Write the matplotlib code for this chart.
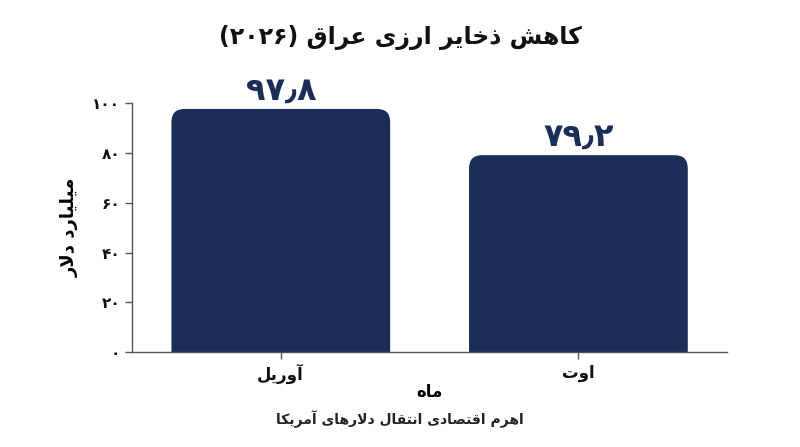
import matplotlib
matplotlib.use("Agg")
import matplotlib.pyplot as plt
from matplotlib.patches import FancyBboxPatch

# data
months = ["آوریل", "اوت"]
reserves = [97.8, 79.2]
value_labels = ["۹۷٫۸", "۷۹٫۲"]
yticks = [0, 20, 40, 60, 80, 100]
ytick_labels = ["۰", "۲۰", "۴۰", "۶۰", "۸۰", "۱۰۰"]
title = "کاهش ذخایر ارزی عراق (۲۰۲۶)"
ylabel = "میلیارد دلار"
xlabel = "ماه"
footer = "اهرم اقتصادی انتقال دلارهای آمریکا"

NAVY = "#1a2e58"

# (isolated, final, initial, medial)
FORMS = {
    "\u0622": ("\uFE81", "\uFE82", None, None),
    "\u0627": ("\uFE8D", "\uFE8E", None, None),
    "\u062A": ("\uFE95", "\uFE96", "\uFE97", "\uFE98"),
    "\u062E": ("\uFEA5", "\uFEA6", "\uFEA7", "\uFEA8"),
    "\u062F": ("\uFEA9", "\uFEAA", None, None),
    "\u0630": ("\uFEAB", "\uFEAC", None, None),
    "\u0631": ("\uFEAD", "\uFEAE", None, None),
    "\u0632": ("\uFEAF", "\uFEB0", None, None),
    "\u0634": ("\uFEB5", "\uFEB6", "\uFEB7", "\uFEB8"),
    "\u0635": ("\uFEB9", "\uFEBA", "\uFEBB", "\uFEBC"),
    "\u0639": ("\uFEC9", "\uFECA", "\uFECB", "\uFECC"),
    "\u0642": ("\uFED5", "\uFED6", "\uFED7", "\uFED8"),
    "\u0644": ("\uFEDD", "\uFEDE", "\uFEDF", "\uFEE0"),
    "\u0645": ("\uFEE1", "\uFEE2", "\uFEE3", "\uFEE4"),
    "\u0646": ("\uFEE5", "\uFEE6", "\uFEE7", "\uFEE8"),
    "\u0647": ("\uFEE9", "\uFEEA", "\uFEEB", "\uFEEC"),
    "\u0648": ("\uFEED", "\uFEEE", None, None),
    "\u06A9": ("\uFB8E", "\uFB8F", "\uFB90", "\uFB91"),
    "\u06CC": ("\uFBFC", "\uFBFD", "\uFBFE", "\uFBFF"),
}
LAM_ALEF = {"\u0627": ("\uFEFB", "\uFEFC"), "\u0622": ("\uFEF5", "\uFEF6")}
MIRROR = {"(": ")", ")": "("}


def dual(c):
    return c in FORMS and FORMS[c][2] is not None


def shape(s):
    out = []
    i = 0
    n = len(s)
    while i < n:
        c = s[i]
        if c not in FORMS:
            out.append(c)
            i += 1
            continue
        prev = s[i - 1] if i > 0 else ""
        joins_prev = dual(prev)
        if c == "\u0644" and i + 1 < n and s[i + 1] in LAM_ALEF:
            out.append(LAM_ALEF[s[i + 1]][1 if joins_prev else 0])
            i += 2
            continue
        nxt = s[i + 1] if i + 1 < n else ""
        joins_next = dual(c) and nxt in FORMS
        if joins_prev and joins_next:
            form = 3
        elif joins_prev:
            form = 1
        elif joins_next:
            form = 2
        else:
            form = 0
        out.append(FORMS[c][form])
        i += 1
    return "".join(out)


def fa(s):
    """Shape Persian text and put it in visual (left-to-right) order."""
    s = shape(s)
    runs = []
    for c in s:
        is_num = ("\u06F0" <= c <= "\u06F9") or c == "\u066B"
        if runs and runs[-1][0] == is_num:
            runs[-1][1].append(c)
        else:
            runs.append([is_num, [c]])
    parts = []
    for is_num, chars in reversed(runs):
        if is_num:
            parts.append("".join(chars))
        else:
            parts.append("".join(MIRROR.get(c, c) for c in reversed(chars)))
    return "".join(parts)


plt.rcParams["font.family"] = ["DejaVu Sans"]
plt.rcParams["font.weight"] = "bold"

fig = plt.figure(figsize=(8, 4.47), dpi=100)
ax = fig.add_axes([0.165, 0.2125, 0.744, 0.556])

x = list(range(len(months)))
bars = ax.bar(x, reserves, width=0.735, color=NAVY)
ax.set_xlim(-0.5, 1.5)
ax.set_ylim(0, 100)

# replace bars with rounded-top versions
px_per_x = 0.744 * 800 / 2.0
px_per_y = 0.556 * 447 / 100.0
for b in bars:
    b.set_visible(False)
    patch = FancyBboxPatch(
        (b.get_x(), -10), b.get_width(), b.get_height() + 10,
        boxstyle="round,pad=0,rounding_size=0.044",
        mutation_aspect=px_per_x / px_per_y,
        facecolor=NAVY, edgecolor="none", clip_on=True,
    )
    ax.add_patch(patch)

for xi, v, lab in zip(x, reserves, value_labels):
    ax.text(xi, v + 0.8, lab, ha="center", va="bottom", fontsize=23,
            fontweight="bold", color=NAVY)

ax.set_xticks(x)
ax.set_xticklabels([fa(m) for m in months], fontsize=12, fontweight="bold")
ax.set_yticks(yticks)
ax.set_yticklabels([fa(t) for t in ytick_labels], fontsize=11, fontweight="bold")
ax.spines["top"].set_visible(False)
ax.spines["right"].set_visible(False)
for sp in ("left", "bottom"):
    ax.spines[sp].set_color("#555555")
    ax.spines[sp].set_linewidth(1.0)
ax.tick_params(axis="both", colors="#555555", labelcolor="#111111", length=5, width=1)

ax.set_ylabel(fa(ylabel), fontsize=13, fontweight="bold", labelpad=10)
ax.set_xlabel(fa(xlabel), fontsize=12, fontweight="bold", labelpad=-1)

fig.text(0.5, 0.915, fa(title), ha="center", va="center", fontsize=17,
         fontweight="bold", color="#111111")
fig.text(0.5, 0.063, fa(footer), ha="center", va="center", fontsize=10,
         fontweight="bold", color="#222222")

fig.savefig("out.png", dpi=100)
